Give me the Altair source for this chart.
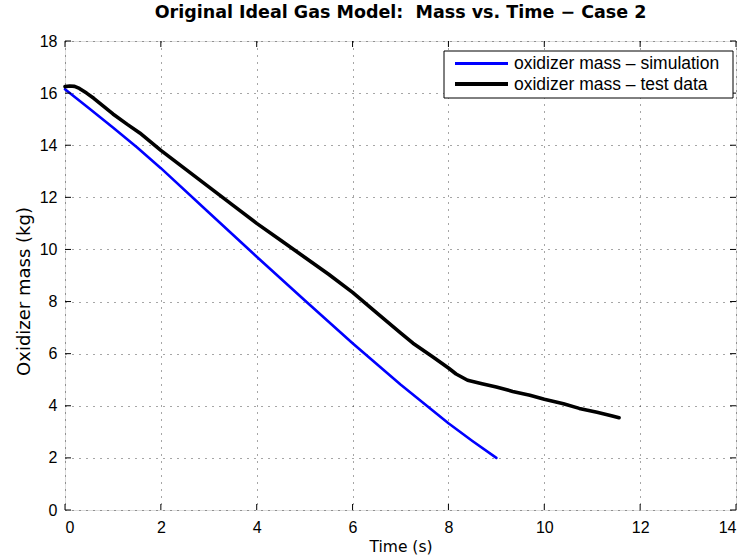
import altair as alt
import pandas as pd

# ---- data ----
sim_t = [0, 0.5, 1, 1.5, 2, 3, 4, 5, 6, 7, 8, 8.5, 9]
sim_m = [16.15, 15.42, 14.68, 13.92, 13.12, 11.42, 9.72, 8.05, 6.4, 4.82, 3.33, 2.65, 2.0]

test_t = [0, 0.1, 0.2, 0.3, 0.45, 0.6, 0.8, 1.0, 1.3, 1.56, 2, 2.5, 3, 3.5, 4, 4.5,
          5, 5.5, 6, 6.56, 7, 7.26, 7.67, 8, 8.16, 8.4, 8.7, 9, 9.34, 9.7, 10, 10.4,
          10.73, 11.1, 11.4, 11.56]
test_m = [16.25, 16.27, 16.26, 16.18, 16.0, 15.8, 15.5, 15.2, 14.8, 14.47, 13.8, 13.1,
          12.4, 11.7, 11.0, 10.35, 9.7, 9.05, 8.35, 7.48, 6.8, 6.4, 5.88, 5.45, 5.22,
          4.98, 4.85, 4.72, 4.55, 4.4, 4.25, 4.08, 3.9, 3.75, 3.62, 3.54]

series_names = ["oxidizer mass \u2013 simulation", "oxidizer mass \u2013 test data"]
series_colors = ["#0000ff", "#000000"]
series_widths = [2.6, 3.6]

x_ticks = [0, 2, 4, 6, 8, 10, 12, 14]
y_ticks = [0, 2, 4, 6, 8, 10, 12, 14, 16, 18]

W, H = 671, 469
TICK = 6

df = pd.concat([
    pd.DataFrame({"t": sim_t, "m": sim_m, "series": series_names[0], "order": range(len(sim_t))}),
    pd.DataFrame({"t": test_t, "m": test_m, "series": series_names[1], "order": range(len(test_t))}),
])
xt = pd.DataFrame({"v": x_ticks})
yt = pd.DataFrame({"v": y_ticks})

xscale = alt.Scale(domain=[0, 14], nice=False, zero=False)
yscale = alt.Scale(domain=[0, 18], nice=False, zero=False)

grid_kw = dict(grid=True, gridColor="black", gridOpacity=0.7, gridDash=[1, 6], gridWidth=1,
               ticks=False, domain=False, labelFont="Liberation Sans", labelFontSize=16,
               labelColor="black", titleFont="DejaVu Sans", titleFontWeight="normal",
               titleColor="black")

lines = alt.Chart(df).mark_line(strokeCap="round", strokeJoin="round").encode(
    x=alt.X("t:Q", scale=xscale, title="Time (s)",
            axis=alt.Axis(values=x_ticks, labelPadding=9, titleFontSize=15.5, titlePadding=4,
                          **grid_kw)),
    y=alt.Y("m:Q", scale=yscale, title="Oxidizer mass (kg)",
            axis=alt.Axis(values=y_ticks, labelPadding=8, titleFontSize=18, titleX=-32,
                          titleY=250, **grid_kw)),
    color=alt.Color("series:N", scale=alt.Scale(domain=series_names, range=series_colors),
                    legend=None),
    strokeWidth=alt.StrokeWidth("series:N", scale=alt.Scale(domain=series_names, range=series_widths),
                                legend=None),
    order="order:Q",
)

tick_x_bottom = alt.Chart(xt).mark_rule(color="black", strokeWidth=1).encode(
    x=alt.X("v:Q", scale=xscale), y=alt.value(H), y2=alt.value(H - TICK))
tick_x_top = alt.Chart(xt).mark_rule(color="black", strokeWidth=1).encode(
    x=alt.X("v:Q", scale=xscale), y=alt.value(0), y2=alt.value(TICK))
tick_y_left = alt.Chart(yt).mark_rule(color="black", strokeWidth=1).encode(
    y=alt.Y("v:Q", scale=yscale), x=alt.value(0), x2=alt.value(TICK))
tick_y_right = alt.Chart(yt).mark_rule(color="black", strokeWidth=1).encode(
    y=alt.Y("v:Q", scale=yscale), x=alt.value(W), x2=alt.value(W - TICK))

# ---- legend box (drawn by hand, MATLAB style) ----
LX0, LX1, LY0, LY1 = 379, 668, 10, 57
one = pd.DataFrame({"k": [0]})
legend_layers = [
    alt.Chart(one).mark_rect(fill="white", stroke="black", strokeWidth=1).encode(
        x=alt.value(LX0), x2=alt.value(LX1), y=alt.value(LY0), y2=alt.value(LY1))
]
for i, (name, col, sw) in enumerate(zip(series_names, series_colors, [3.0, 4.0])):
    ry = 22.5 + i * 20.5
    row = pd.DataFrame({"label": [name]})
    legend_layers.append(
        alt.Chart(row).mark_rule(color=col, strokeWidth=sw).encode(
            x=alt.value(390), x2=alt.value(443), y=alt.value(ry)))
    legend_layers.append(
        alt.Chart(row).mark_text(align="left", baseline="middle", font="Liberation Sans",
                                 fontSize=17.5, color="black").encode(
            x=alt.value(449), y=alt.value(ry + 0.5), text="label:N"))

chart = alt.layer(lines, tick_x_bottom, tick_x_top, tick_y_left, tick_y_right,
                  *legend_layers).properties(
    width=W, height=H,
    title=alt.TitleParams("Original Ideal Gas Model:\u00a0 Mass vs. Time \u2212 Case 2",
                          font="DejaVu Sans", fontSize=17.5, fontWeight="bold", color="black",
                          anchor="middle", offset=12),
    autosize=alt.AutoSizeParams(type="none"),
    padding={"left": 65, "top": 41, "right": 12, "bottom": 50},
).configure_view(stroke="black", strokeWidth=1).configure(background="white")

chart.save("out.html", embed_options={"renderer": "svg", "actions": False})
